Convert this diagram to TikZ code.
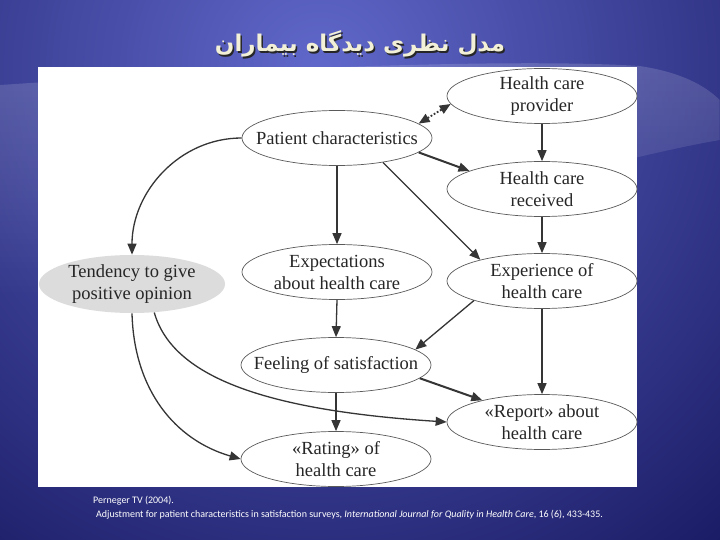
\documentclass[tikz,border=0pt]{standalone}
\usepackage{fontspec}
\setmainfont{Liberation Serif}
\newfontfamily\arabicfont[Script=Arabic]{DejaVu Sans}
\newfontfamily\notefont{Carlito}
\TeXXeTstate=1
\usetikzlibrary{shapes.geometric,arrows.meta,fadings}
\definecolor{bgdark}{HTML}{0D0D52}
\definecolor{bglight}{HTML}{6068CA}
\definecolor{edgec}{HTML}{353535}
\definecolor{ellc}{HTML}{5A5A5A}
\definecolor{tendc}{HTML}{DCDCDC}
\definecolor{titlec}{HTML}{F2F0D6}
\tikzfading[name=fadedown, top color=transparent!0, bottom color=transparent!100]
\begin{document}
\begin{tikzpicture}[x=1pt,y=-1pt,
  box/.style={ellipse, draw=ellc, line width=0.7pt, fill=white, minimum width=190pt, minimum height=55pt, inner xsep=-16pt, inner ysep=0pt, align=center, font=\fontsize{18.5}{22}\selectfont, text=black!85},
  greybox/.style={box, draw=none, fill=tendc, minimum width=186pt, minimum height=58pt},
  arr/.style={-{Triangle[length=11pt,width=9pt]}, draw=edgec, line width=1.3pt},
  thickarr/.style={arr, line width=2pt},
  dotarr/.style={{Triangle[length=11pt,width=9pt]}-{Triangle[length=11pt,width=9pt]}, draw=edgec, line width=1.8pt, dash pattern=on 1.8pt off 1.8pt},
  notetext/.style={anchor=base west, font=\notefont\fontsize{10}{12}\selectfont, text=white, inner sep=0pt}]
\useasboundingbox (0,0) rectangle (720,540);
% background
\fill[bgdark] (0,0) rectangle (720,540);
\begin{scope}
  \clip (0,0) rectangle (720,540);
  \shade[inner color=bglight, outer color=bgdark] (320,70) circle (740);
  \fill[white, opacity=0.16, path fading=fadedown] (0,85) .. controls (250,68) and (520,58) .. (640,66) .. controls (680,72) and (705,85) .. (720,100) -- (720,140) .. controls (600,160) and (300,250) .. (0,300) -- cycle;
\end{scope}
% title
\node[font=\arabicfont\bfseries\fontsize{23}{28}\selectfont, text=black!85] (titleshadow) at (361.5,45.5) {\beginR مدل نظری دیدگاه بیماران\endR};
\node[font=\arabicfont\bfseries\fontsize{23}{28}\selectfont, text=titlec] (title) at (360,44) {\beginR مدل نظری دیدگاه بیماران\endR};
% panel
\fill[white] (38,67) rectangle (637,487);
% nodes
\node[box] (hcp) at (542,96) {Health care\\provider};
\node[box] (pc) at (337,138) {Patient characteristics};
\node[box] (hcr) at (542,189) {Health care\\received};
\node[box] (exp) at (337,272) {Expectations\\about health care};
\node[greybox] (tend) at (132,284) {Tendency to give\\positive opinion};
\node[box] (expr) at (542,281) {Experience of\\health care};
\node[box] (feel) at (336,365) {Feeling of satisfaction};
\node[box] (rep) at (542,422) {«Report» about\\health care};
\node[box] (rat) at (336,459) {«Rating» of\\health care};
% edges
\draw[dotarr] (pc.10.5) -- (hcp.185);
\draw[arr] (hcp.south) -- (hcr.north);
\draw[thickarr] (pc.-10) -- (hcr.166);
\draw[arr] (pc.west) to[out=180,in=90] (tend.north);
\draw[arr] (pc.-28) -- (expr.161);
\draw[arr] (pc.south) -- (exp.north);
\draw[arr] (hcr.south) -- (expr.north);
\draw[arr] (exp.south) -- (feel.north);
\draw[arr] (expr.196) -- (feel.11);
\draw[arr] (expr.south) -- (rep.north);
\draw[thickarr] (feel.-9) -- (rep.160);
\draw[arr] (feel.south) -- (rat.north);
\draw[arr] (tend.-52) .. controls (172,375) and (260,410) .. (rep.west);
\draw[arr] (tend.south) .. controls (134,390) and (175,440) .. (rat.west);
% reference
\node[notetext] (ref1) at (93,503) {Perneger TV (2004).};
\node[notetext] (ref2) at (96,517) {Adjustment for patient characteristics in satisfaction surveys, \textit{International Journal for Quality in Health Care}, 16 (6), 433-435.};
\end{tikzpicture}
\end{document}
